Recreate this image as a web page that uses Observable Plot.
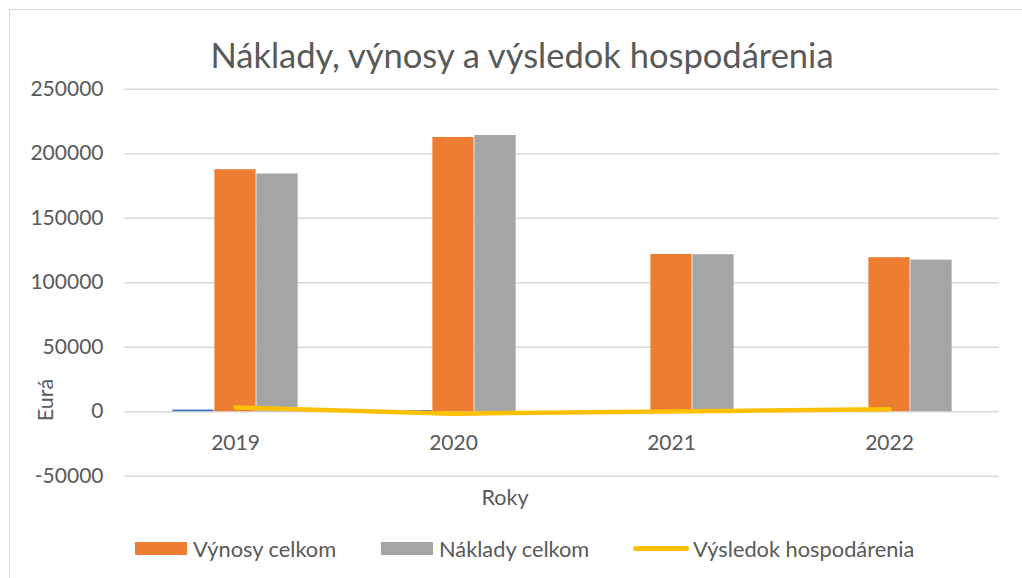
<!DOCTYPE html>
<html><head><meta charset="utf-8">
<script src="https://cdn.jsdelivr.net/npm/d3@7"></script>
<script src="https://cdn.jsdelivr.net/npm/@observablehq/plot@0.6"></script>
<style>
body{margin:0;background:#fff;font-family:Lato,"Open Sans",sans-serif;color:#595959;}
#wrap{position:relative;width:1022px;height:578px;overflow:hidden;background:#fff;}
#frame{position:absolute;left:9px;top:9px;width:1100px;height:700px;border:1.5px solid #d9d9d9;box-sizing:border-box;}
#chart{position:absolute;left:0;top:0;}
#title{position:absolute;left:0;width:1044px;top:34px;text-align:center;font-size:34.5px;line-height:42px;white-space:nowrap;}
#ylab{position:absolute;left:45px;top:400px;transform:translate(-50%,-50%) rotate(-90deg);font-size:21.5px;white-space:nowrap;}
#xlab{position:absolute;left:505px;top:497px;transform:translate(-50%,-50%);font-size:21.5px;white-space:nowrap;}
.leg{position:absolute;top:536px;height:24px;display:flex;align-items:center;font-size:21.8px;white-space:nowrap;}
.sw{display:inline-block;width:52px;height:13px;margin-right:6px;}
.ln{display:inline-block;width:56px;height:5px;border-radius:3px;margin-right:4px;}
</style></head>
<body>
<div id="wrap">
  <div id="frame"></div>
  <div id="chart"></div>
  <div id="title"></div>
  <div id="ylab"></div>
  <div id="xlab"></div>
  <div id="legend"></div>
</div>
<script>
const titleText = "Náklady, výnosy a výsledok hospodárenia";
const yLabel = "Eurá";
const xLabel = "Roky";
const years = ["2019", "2020", "2021", "2022"];
const modra = [1300, 900, 600, 500];
const vynosy = [187600, 212600, 121900, 119400];
const naklady = [184300, 214100, 121700, 117500];
const vysledok = [3300, -1500, 200, 1900];
const yTicks = [-50000, 0, 50000, 100000, 150000, 200000, 250000];
const seriesNames = ["Výnosy celkom", "Náklady celkom", "Výsledok hospodárenia"];
const colors = {modra: "#4472C4", vynosy: "#ED7D31", naklady: "#A5A5A5", vysledok: "#FFC000"};

const rows = years.map((y, i) => ({year: y, modra: modra[i], vynosy: vynosy[i], naklady: naklady[i], vysledok: vysledok[i]}));

const W = 1022, H = 578;
const mL = 124, mR = 23, mT = 88.7, mB = 102.3;
const band = (W - mL - mR) / years.length;
const barW = 42;
const inset = (band - barW) / 2;

const chart = Plot.plot({
  width: W, height: H,
  marginLeft: mL, marginRight: mR, marginTop: mT, marginBottom: mB,
  style: {fontFamily: "Lato, 'Open Sans', sans-serif", color: "#595959", background: "transparent"},
  x: {type: "band", domain: years, paddingInner: 0, paddingOuter: 0, axis: null},
  y: {domain: [-50000, 250000], axis: null},
  marks: [
    Plot.gridY(yTicks, {stroke: "#d9d9d9", strokeOpacity: 1, strokeWidth: 1.4}),
    Plot.axisY(yTicks, {tickSize: 0, tickPadding: 21, tickFormat: d => String(d), fontSize: 21, fill: "#595959", label: null}),
    Plot.barY(rows, {x: "year", y: "modra", fill: colors.modra, insetLeft: inset, insetRight: inset, dx: -barW}),
    Plot.barY(rows, {x: "year", y: "vynosy", fill: colors.vynosy, insetLeft: inset, insetRight: inset}),
    Plot.barY(rows, {x: "year", y: "naklady", fill: colors.naklady, insetLeft: inset, insetRight: inset, dx: barW}),
    Plot.line(rows, {x: "year", y: "vysledok", stroke: colors.vysledok, strokeWidth: 4.5, strokeLinecap: "round", strokeLinejoin: "round"}),
    Plot.text(years, {x: d => d, y: () => 0, dy: 32, text: d => d, fontSize: 21, fill: "#595959"})
  ]
});
document.getElementById("chart").appendChild(chart);
document.getElementById("title").textContent = titleText;
document.getElementById("ylab").textContent = yLabel;
document.getElementById("xlab").textContent = xLabel;

const legendPos = [135, 381, 633];
const leg = document.getElementById("legend");
seriesNames.forEach((name, i) => {
  const d = document.createElement("div");
  d.className = "leg";
  d.style.left = legendPos[i] + "px";
  const sw = document.createElement("span");
  if (i < 2) { sw.className = "sw"; sw.style.background = i === 0 ? colors.vynosy : colors.naklady; }
  else { sw.className = "ln"; sw.style.background = colors.vysledok; }
  d.appendChild(sw);
  const t = document.createElement("span");
  t.textContent = name;
  d.appendChild(t);
  leg.appendChild(d);
});
</script>
</body></html>
